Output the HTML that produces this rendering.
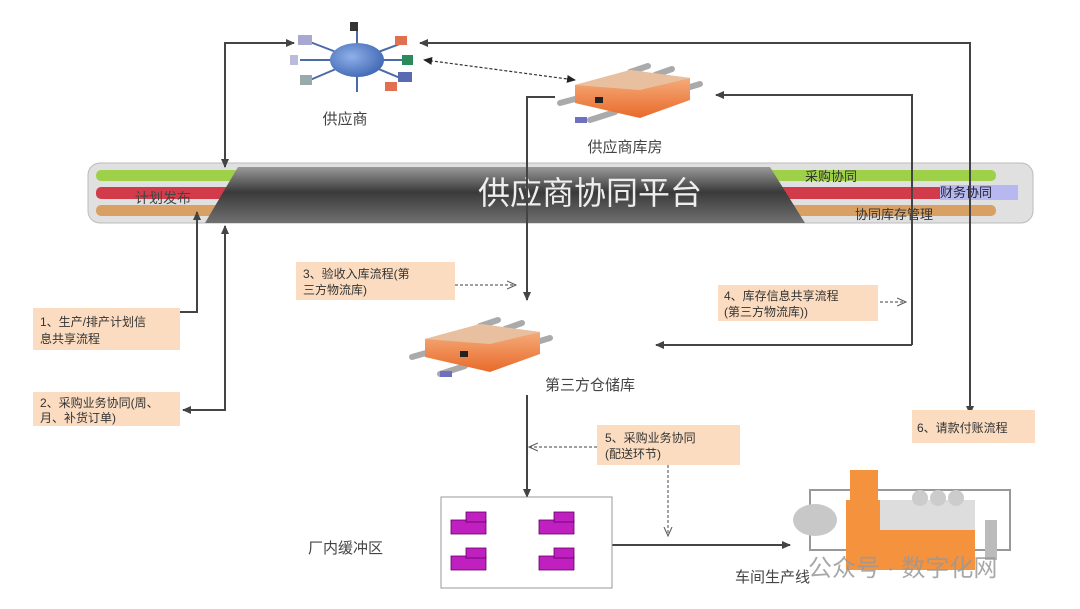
<!DOCTYPE html>
<html><head><meta charset="utf-8"><style>
body{margin:0;background:#fff;}
svg{display:block;font-family:"Liberation Sans","Noto Sans CJK SC",sans-serif;}
</style></head><body>
<svg width="1080" height="609" viewBox="0 0 1080 609" xmlns="http://www.w3.org/2000/svg">
<defs>
<marker id="a" markerWidth="10" markerHeight="10" refX="8" refY="5" orient="auto" markerUnits="userSpaceOnUse"><path d="M0,1 L9,5 L0,9 z" fill="#444"/></marker>
<marker id="d" markerWidth="10" markerHeight="10" refX="8" refY="5" orient="auto" markerUnits="userSpaceOnUse"><path d="M0,1 L9,5 L0,9" fill="none" stroke="#555"/></marker>
<marker id="ds" markerWidth="10" markerHeight="10" refX="2" refY="5" orient="auto" markerUnits="userSpaceOnUse"><path d="M9,1 L0,5 L9,9 z" fill="#222"/></marker>
<marker id="de" markerWidth="10" markerHeight="10" refX="8" refY="5" orient="auto" markerUnits="userSpaceOnUse"><path d="M0,1 L9,5 L0,9 z" fill="#222"/></marker>
<linearGradient id="dark" x1="0" y1="0" x2="0" y2="1"><stop offset="0" stop-color="#9a9a9a"/><stop offset="0.45" stop-color="#3a3a3a"/><stop offset="1" stop-color="#707070"/></linearGradient>
<radialGradient id="blue" cx="0.4" cy="0.4" r="0.7"><stop offset="0" stop-color="#8fb0e8"/><stop offset="1" stop-color="#3a62b0"/></radialGradient>
<linearGradient id="or" x1="0" y1="0" x2="0" y2="1"><stop offset="0" stop-color="#f7b88a"/><stop offset="1" stop-color="#e86a2a"/></linearGradient>
</defs>

<rect x="88" y="163" width="945" height="60" rx="12" fill="#e0e0e0" stroke="#bbb"/>
<rect x="96" y="170" width="900" height="11" rx="5" fill="#9fd04a"/>
<rect x="96" y="187" width="850" height="12" rx="5" fill="#d23b4a"/>
<rect x="940" y="185" width="78" height="15" fill="#b8b8f0"/>
<rect x="96" y="205" width="900" height="11" rx="5" fill="#d9a064"/>
<path d="M238,167 L770,167 L805,223 L205,223 Z" fill="url(#dark)"/>
<text x="590" y="204" font-size="32" fill="#eee" text-anchor="middle">供应商协同平台</text>
<text x="135" y="203" font-size="14" fill="#444">计划发布</text>
<text x="805" y="181" font-size="13" fill="#333">采购协同</text>
<text x="940" y="197" font-size="13" fill="#223">财务协同</text>
<text x="855" y="219" font-size="13" fill="#333">协同库存管理</text>

<g stroke="#444" stroke-width="2" fill="none">
<polyline points="225,165 225,43 294,43" marker-end="url(#a)"/>
<line x1="225" y1="120" x2="225" y2="167" marker-end="url(#a)"/>
<polyline points="970,415 970,43 420,43" marker-end="url(#a)"/>
<line x1="970" y1="380" x2="970" y2="414" marker-end="url(#a)"/>
<polyline points="555,97 527,97 527,300" marker-end="url(#a)"/>
<polyline points="912,345 912,95 716,95" marker-end="url(#a)"/>
<line x1="912" y1="345" x2="656" y2="345" marker-end="url(#a)"/>
<polyline points="180,312 197,312 197,212" marker-end="url(#a)"/>
<polyline points="225,228 225,410 183,410" marker-end="url(#a)"/>
<line x1="225" y1="260" x2="225" y2="226" marker-end="url(#a)"/>
<line x1="527" y1="395" x2="527" y2="497" marker-end="url(#a)"/>
<line x1="612" y1="545" x2="790" y2="545" marker-end="url(#a)"/>
</g>
<line x1="425" y1="60" x2="575" y2="80" stroke="#333" stroke-width="1.2" stroke-dasharray="3,2" marker-start="url(#ds)" marker-end="url(#de)"/>
<g stroke="#666" stroke-width="1.2" stroke-dasharray="3,2" fill="none">
<line x1="455" y1="285" x2="515" y2="285" marker-end="url(#d)"/>
<line x1="880" y1="302" x2="905" y2="302" marker-end="url(#d)"/>
<line x1="597" y1="447" x2="530" y2="447" marker-end="url(#d)"/>
<line x1="668" y1="465" x2="668" y2="535" marker-end="url(#d)"/>
</g>

<g fill="#fbdcc0">
<rect x="33" y="308" width="147" height="42"/>
<rect x="33" y="392" width="147" height="34"/>
<rect x="296" y="262" width="159" height="38"/>
<rect x="718" y="285" width="160" height="36"/>
<rect x="597" y="425" width="143" height="40"/>
<rect x="912" y="410" width="123" height="33"/>
</g>
<g font-size="12" fill="#333">
<text x="40" y="326">1、生产/排产计划信</text><text x="40" y="343">息共享流程</text>
<text x="40" y="407">2、采购业务协同(周、</text><text x="40" y="422">月、补货订单)</text>
<text x="303" y="278">3、验收入库流程(第</text><text x="303" y="294">三方物流库)</text>
<text x="724" y="300">4、库存信息共享流程</text><text x="724" y="316">(第三方物流库))</text>
<text x="605" y="442">5、采购业务协同</text><text x="605" y="458">(配送环节)</text>
<text x="917" y="432">6、请款付账流程</text>
</g>

<g stroke="#4a6aa8" stroke-width="2">
<line x1="357" y1="60" x2="310" y2="42"/><line x1="357" y1="60" x2="405" y2="42"/>
<line x1="357" y1="60" x2="310" y2="80"/><line x1="357" y1="60" x2="405" y2="80"/>
<line x1="357" y1="60" x2="357" y2="30"/><line x1="357" y1="60" x2="357" y2="92"/>
<line x1="357" y1="60" x2="300" y2="60"/><line x1="357" y1="60" x2="412" y2="60"/>
</g>
<ellipse cx="357" cy="60" rx="27" ry="17" fill="url(#blue)"/>
<g>
<rect x="298" y="35" width="14" height="10" fill="#a8a8d0"/><rect x="395" y="36" width="12" height="9" fill="#e07050"/>
<rect x="402" y="55" width="11" height="10" fill="#2a8a5a"/><rect x="398" y="72" width="14" height="10" fill="#5a6ab0"/>
<rect x="300" y="75" width="12" height="10" fill="#9aa"/><rect x="385" y="82" width="12" height="9" fill="#e07050"/>
<rect x="350" y="22" width="8" height="9" fill="#333"/><rect x="290" y="55" width="8" height="10" fill="#bbd"/>
</g>
<text x="345" y="124" font-size="15" fill="#444" text-anchor="middle">供应商</text>

<g>
<g stroke="#aaa" stroke-width="6" stroke-linecap="round">
<line x1="560" y1="103" x2="590" y2="95"/><line x1="590" y1="120" x2="615" y2="112"/>
<line x1="630" y1="72" x2="648" y2="66"/><line x1="655" y1="75" x2="672" y2="69"/><line x1="680" y1="90" x2="700" y2="84"/>
</g>
<path d="M575,85 L630,70 L690,78 L690,100 L640,118 L575,103 Z" fill="url(#or)"/>
<path d="M575,85 L630,70 L690,78 L640,90 Z" fill="#e8c0a0"/>
<rect x="595" y="97" width="8" height="6" fill="#222"/>
<rect x="575" y="117" width="12" height="6" fill="#7070c0"/>
</g>
<text x="625" y="152" font-size="15" fill="#444" text-anchor="middle">供应商库房</text>
<g transform="translate(-150,254)">
<g stroke="#aaa" stroke-width="6" stroke-linecap="round">
<line x1="562" y1="103" x2="590" y2="95"/><line x1="590" y1="120" x2="615" y2="112"/>
<line x1="630" y1="72" x2="648" y2="66"/><line x1="655" y1="75" x2="672" y2="69"/><line x1="680" y1="90" x2="700" y2="84"/>
</g>
<path d="M575,85 L630,70 L690,78 L690,100 L640,118 L575,103 Z" fill="url(#or)"/>
<path d="M575,85 L630,70 L690,78 L640,90 Z" fill="#e8c0a0"/>
<rect x="610" y="97" width="8" height="6" fill="#222"/>
<rect x="590" y="117" width="12" height="6" fill="#7070c0"/>
</g>
<text x="590" y="390" font-size="15" fill="#444" text-anchor="middle">第三方仓储库</text>

<rect x="441" y="497" width="171" height="91" fill="#fff" stroke="#999"/>
<g fill="#c020c0" stroke="#600060" stroke-width="0.8">
<rect x="451" y="520" width="35" height="14"/><rect x="466" y="512" width="20" height="10"/>
<rect x="539" y="520" width="35" height="14"/><rect x="554" y="512" width="20" height="10"/>
<rect x="451" y="556" width="35" height="14"/><rect x="466" y="548" width="20" height="10"/>
<rect x="539" y="556" width="35" height="14"/><rect x="554" y="548" width="20" height="10"/>
</g>
<text x="308" y="553" font-size="15" fill="#444">厂内缓冲区</text>

<rect x="810" y="490" width="200" height="60" fill="none" stroke="#999" stroke-width="2"/>
<ellipse cx="815" cy="520" rx="22" ry="16" fill="#c8c8c8"/>
<rect x="850" y="470" width="28" height="40" fill="#f5923e"/>
<path d="M846,500 L975,500 L975,570 L846,570 Z" fill="#f5923e"/>
<path d="M880,500 L975,500 L975,530 L880,530 Z" fill="#ddd"/>
<circle cx="920" cy="498" r="8" fill="#ccc"/><circle cx="938" cy="498" r="8" fill="#ccc"/><circle cx="956" cy="498" r="8" fill="#ccc"/>
<rect x="985" y="520" width="12" height="40" fill="#bbb"/>
<text x="735" y="582" font-size="15" fill="#444">车间生产线</text>
<text x="808" y="576" font-size="24" fill="#999" opacity="0.85">公众号 · 数字化网</text>
</svg>
</body></html>
